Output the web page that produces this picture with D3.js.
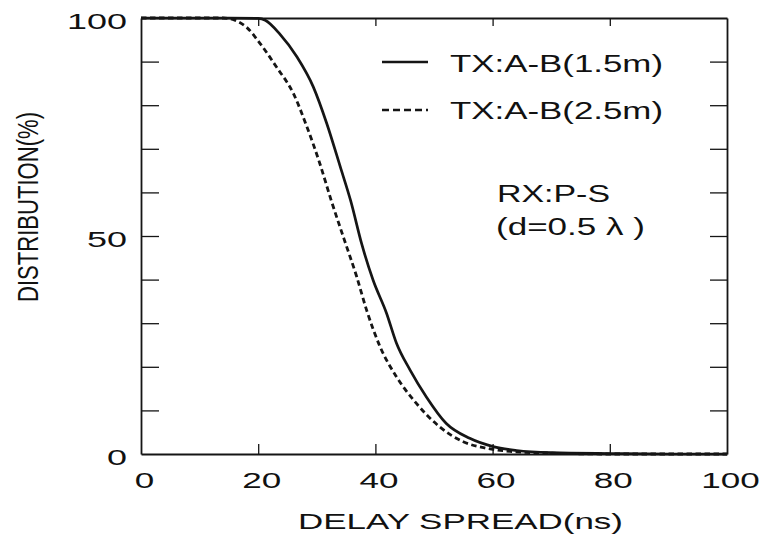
<!DOCTYPE html>
<html><head><meta charset="utf-8">
<script src="https://cdn.jsdelivr.net/npm/d3@7"></script>
<style>
html,body{margin:0;padding:0;background:#fff;}
svg{display:block;}
text{font-family:"Liberation Sans",Arial,Helvetica,sans-serif;fill:#111;}
</style></head>
<body>
<svg id="chart" width="763" height="537"></svg>
<script>
// ---- data ----
const xTickValues = [0, 20, 40, 60, 80, 100];
const yTickValues = [0, 10, 20, 30, 40, 50, 60, 70, 80, 90, 100];
const yLabelled = [0, 50, 100];
const seriesNames = ["TX:A-B(1.5m)", "TX:A-B(2.5m)"];
const delay15 = [0, 15, 20, 21.2, 23.7, 26.6, 29.4, 31.7, 34.0, 35.8, 37.7, 39.6, 41.9, 43.6, 45.9, 48.7, 52.1, 56.1, 60.1, 64.1, 70, 80, 90, 100];
const dist15  = [100, 100, 99.9, 99.5, 96.3, 91.1, 84.2, 75.8, 65.9, 58.0, 48.0, 39.9, 32.3, 25.4, 19.3, 13.1, 7.0, 3.6, 1.7, 0.8, 0.3, 0.1, 0, 0];
const delay25 = [0, 14, 16, 18, 20.3, 23.1, 26.0, 28.3, 30.5, 32.5, 34.6, 36.8, 38.5, 40.8, 43.6, 47.0, 50.9, 55.0, 59.0, 63.0, 70, 80, 100];
const dist25  = [100, 100, 99.5, 97.9, 94.2, 88.8, 82.7, 75.1, 66.7, 58.0, 49.5, 40.7, 33.0, 24.6, 17.7, 11.6, 6.3, 2.8, 1.3, 0.6, 0.2, 0, 0];
const xTitle = "DELAY SPREAD(ns)";
const yTitle = "DISTRIBUTION(%)";
const note1 = "RX:P-S";
const note2 = "(d=0.5 λ )";

// ---- layout ----
const L = 141, R = 727, T = 18, B = 454;
const svg = d3.select("#chart");
const x = d3.scaleLinear().domain([0, 100]).range([L, R]);
const y = d3.scaleLinear().domain([0, 100]).range([B, T]);
const ink = "#151515";

function styleAxis(g) {
  g.selectAll("path.domain").attr("stroke", ink).attr("stroke-width", 1.8);
  g.selectAll(".tick line").attr("stroke", ink).attr("stroke-width", 1.3);
}

// axes
const gB = svg.append("g").attr("transform", `translate(0,${B})`)
  .call(d3.axisBottom(x).tickValues(xTickValues).tickSize(-10).tickSizeOuter(0).tickPadding(24))
  .call(styleAxis);
gB.selectAll(".tick line").filter(d => d === 0 || d === 100).remove();
gB.selectAll("text").attr("font-size", 22).attr("fill", ink)
  .attr("dy", 0).attr("y", 34).attr("x", 3)
  .attr("textLength", d => String(d).length * 19.5).attr("lengthAdjust", "spacingAndGlyphs");

const gT = svg.append("g").attr("transform", `translate(0,${T})`)
  .call(d3.axisTop(x).tickValues(xTickValues).tickSize(-8).tickSizeOuter(0).tickFormat(""))
  .call(styleAxis);
gT.selectAll(".tick line").filter(d => d === 0 || d === 100).remove();

const gL = svg.append("g").attr("transform", `translate(${L},0)`)
  .call(d3.axisLeft(y).tickValues(yTickValues).tickSize(-18).tickSizeOuter(0)
        .tickFormat(d => yLabelled.includes(d) ? String(d) : ""))
  .call(styleAxis);
gL.selectAll(".tick line").filter(d => d === 0 || d === 100).remove();
gL.selectAll("text").attr("font-size", 22).attr("fill", ink)
  .attr("x", -14).attr("dy", 0).attr("y", 10)
  .attr("textLength", d => yLabelled.includes(d) ? String(d).length * 20 : null)
  .attr("lengthAdjust", "spacingAndGlyphs");

const gR = svg.append("g").attr("transform", `translate(${R},0)`)
  .call(d3.axisRight(y).tickValues(yTickValues).tickSize(-17).tickSizeOuter(0).tickFormat(""))
  .call(styleAxis);
gR.selectAll(".tick line").filter(d => d === 0 || d === 100).remove();

// curves
const line = d3.line().x(d => x(d[0])).y(d => y(d[1])).curve(d3.curveMonotoneX);
const s15 = delay15.map((v, i) => [v, dist15[i]]);
const s25 = delay25.map((v, i) => [v, dist25[i]]);
svg.append("path").datum(s15).attr("d", line)
  .attr("fill", "none").attr("stroke", ink).attr("stroke-width", 2.7).attr("stroke-linejoin", "round");
svg.append("path").datum(s25).attr("d", line)
  .attr("fill", "none").attr("stroke", ink).attr("stroke-width", 2.8).attr("stroke-dasharray", "5.5,3.5");

// legend
const leg = [{name: seriesNames[0], dash: null, ly: 62, ty: 72},
             {name: seriesNames[1], dash: "7,4", ly: 110, ty: 119}];
leg.forEach(l => {
  svg.append("line").attr("x1", 382).attr("x2", 428).attr("y1", l.ly).attr("y2", l.ly)
    .attr("stroke", ink).attr("stroke-width", 2.4).attr("stroke-dasharray", l.dash);
  svg.append("text").attr("x", 450).attr("y", l.ty).attr("font-size", 23)
    .attr("textLength", 213).attr("lengthAdjust", "spacingAndGlyphs").text(l.name);
});
svg.append("text").attr("x", 497).attr("y", 202).attr("font-size", 23)
  .attr("textLength", 113).attr("lengthAdjust", "spacingAndGlyphs").text(note1);
svg.append("text").attr("x", 496).attr("y", 235).attr("font-size", 23)
  .attr("textLength", 149).attr("lengthAdjust", "spacingAndGlyphs").text(note2);

// axis titles
svg.append("text").attr("x", 298).attr("y", 529).attr("font-size", 22)
  .attr("textLength", 325).attr("lengthAdjust", "spacingAndGlyphs").text(xTitle);
svg.append("text").attr("transform", "translate(38,302) rotate(-90)")
  .attr("font-size", 30).attr("textLength", 190).attr("lengthAdjust", "spacingAndGlyphs").text(yTitle);
</script>
</body></html>
